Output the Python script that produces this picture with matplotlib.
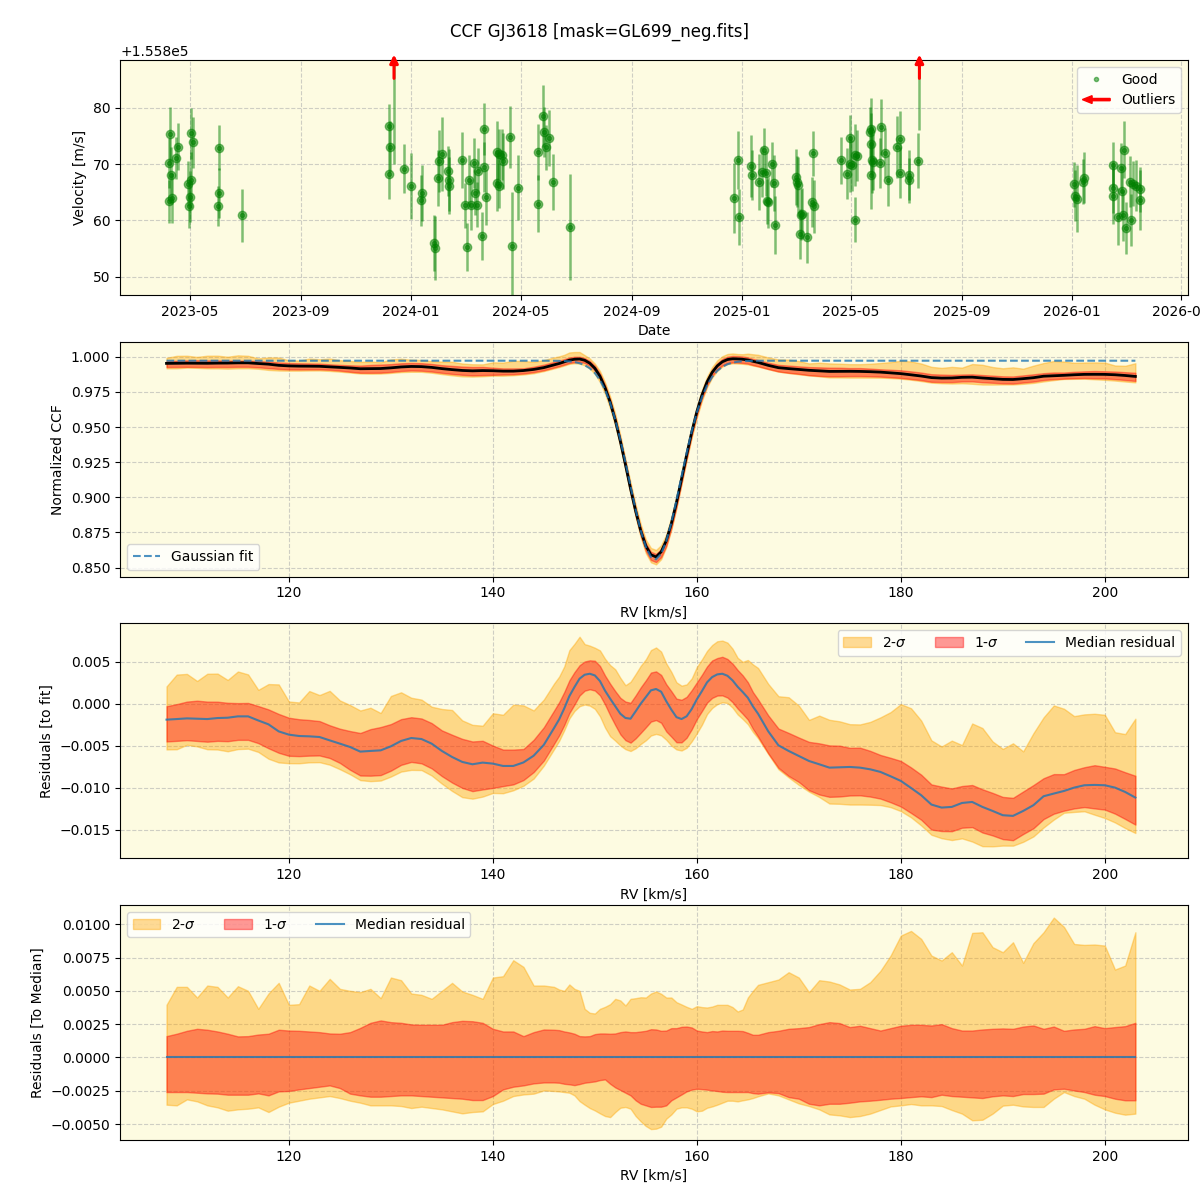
"""
CCF summary plot: RV time series, median CCF with Gaussian fit, residuals
"""
import numpy as np
import pandas as pd
import matplotlib
matplotlib.use('Agg')
import matplotlib.pyplot as plt
import matplotlib.dates as mdates
import matplotlib.patches as mpatches
from matplotlib.legend_handler import HandlerPatch
from matplotlib.lines import Line2D

# ---------------- RV time series ----------------
V_OFFSET = 1.558e5  # m/s

good_dates = [
    '2023-04-09', '2023-04-08', '2023-04-10', '2023-04-08', '2023-04-11', '2023-04-18', '2023-04-16',
    '2023-05-03', '2023-05-05', '2023-04-29', '2023-05-02', '2023-05-01', '2023-04-30',
    '2023-06-02', '2023-06-03', '2023-06-01', '2023-06-28',
    '2023-12-08', '2023-12-09', '2023-12-07', '2023-12-24', '2024-01-01', '2024-01-13', '2024-01-12',
    '2024-01-26', '2024-01-27', '2024-01-31', '2024-02-01', '2024-02-04', '2024-02-11', '2024-02-12',
    '2024-02-12', '2024-02-26', '2024-03-01', '2024-03-03', '2024-03-05', '2024-03-07', '2024-03-10',
    '2024-03-12', '2024-03-14', '2024-03-15', '2024-03-19', '2024-03-21', '2024-03-22', '2024-03-24',
    '2024-04-05', '2024-04-07', '2024-04-10', '2024-04-05', '2024-04-07', '2024-04-12', '2024-04-19',
    '2024-04-21', '2024-04-28', '2024-05-20', '2024-05-20', '2024-05-26', '2024-05-27', '2024-06-01',
    '2024-05-29', '2024-06-06', '2024-06-25',
    '2024-12-23', '2024-12-27', '2024-12-28', '2025-01-11', '2025-01-12', '2025-01-20', '2025-01-25',
    '2025-01-23', '2025-01-27', '2025-02-03', '2025-02-05', '2025-01-30', '2025-01-28', '2025-02-06',
    '2025-03-02', '2025-03-03', '2025-03-04', '2025-03-07', '2025-03-08', '2025-03-06', '2025-03-14',
    '2025-03-20', '2025-03-19', '2025-03-21', '2025-04-20', '2025-04-27', '2025-04-30', '2025-04-30',
    '2025-05-03', '2025-05-06', '2025-05-08', '2025-05-06', '2025-05-22', '2025-05-24', '2025-05-23',
    '2025-05-25', '2025-05-26', '2025-05-23', '2025-06-02', '2025-06-03', '2025-06-08', '2025-06-11',
    '2025-06-21', '2025-06-25', '2025-06-25', '2025-07-04', '2025-07-05', '2025-07-14',
    '2026-01-03', '2026-01-04', '2026-01-06', '2026-01-13', '2026-01-14', '2026-02-15', '2026-02-15',
    '2026-02-15', '2026-02-24', '2026-02-27', '2026-02-25', '2026-02-21', '2026-02-26', '2026-03-01',
    '2026-03-06', '2026-03-09', '2026-03-12', '2026-03-07', '2026-03-17', '2026-03-17',
]
good_vel = [
    75.3, 70.2, 68.0, 63.4, 64.0, 73.1, 71.1,
    75.5, 73.9, 66.5, 67.2, 64.2, 62.6,
    72.9, 64.9, 62.6, 60.9,
    76.7, 73.1, 68.3, 69.2, 66.1, 64.9, 63.6,
    56.0, 55.1, 67.5, 70.6, 71.8, 68.8, 67.2,
    66.2, 70.7, 62.7, 55.3, 67.1, 62.8, 70.2,
    64.9, 62.8, 68.8, 57.2, 76.3, 69.5, 64.2,
    72.2, 71.8, 71.7, 66.7, 66.2, 70.5, 74.9,
    55.5, 65.8, 72.2, 63.0, 78.6, 75.7, 74.7,
    73.0, 66.8, 58.8,
    64.0, 70.7, 60.6, 69.7, 68.1, 66.8, 72.5,
    68.6, 68.4, 70.0, 66.6, 63.2, 63.4, 59.2,
    67.7, 66.9, 66.3, 61.0, 61.2, 57.6, 57.0,
    71.9, 63.3, 62.5, 70.7, 68.3, 74.7, 70.0,
    69.8, 71.7, 71.5, 60.1, 75.7, 76.2, 73.6,
    70.8, 70.4, 68.0, 70.2, 76.6, 72.0, 67.1,
    73.1, 74.4, 68.5, 68.1, 67.1, 70.6,
    66.4, 64.4, 63.9, 66.9, 67.6, 69.9, 65.8,
    64.3, 69.3, 72.6, 65.2, 60.7, 60.9, 58.6,
    66.9, 66.5, 66.2, 60.1, 65.5, 63.6,
]
good_err = [
    4.8, 4.5, 5.0, 3.8, 4.5, 4.2, 3.8,
    4.5, 4.5, 4.0, 5.0, 4.5, 4.0,
    4.0, 4.5, 3.5, 4.7,
    4.0, 4.5, 4.5, 4.3, 5.8, 5.0, 4.5,
    5.0, 5.7, 5.0, 5.5, 6.5, 4.5, 5.5,
    5.0, 5.0, 4.0, 4.3, 4.5, 4.5, 4.5,
    4.0, 4.0, 4.0, 4.3, 4.6, 4.5, 5.0,
    5.5, 4.5, 4.5, 5.0, 4.0, 5.0, 5.5,
    9.5, 5.8, 5.0, 5.0, 5.5, 4.5, 5.0,
    4.0, 5.0, 9.4,
    6.2, 5.2, 5.0, 5.5, 4.5, 5.0, 4.0,
    4.5, 4.0, 4.0, 5.0, 4.5, 4.0, 5.1,
    5.0, 4.5, 5.0, 4.5, 4.5, 4.4, 4.5,
    4.0, 4.5, 4.7, 4.2, 4.5, 4.0, 5.0,
    4.5, 5.5, 4.5, 4.0, 4.5, 5.5, 5.5,
    6.0, 5.0, 6.0, 4.5, 5.0, 4.5, 4.5,
    5.5, 5.0, 4.5, 4.5, 4.0, 4.9,
    4.0, 4.5, 6.0, 4.0, 4.5, 4.0, 4.5,
    5.0, 4.5, 5.0, 4.5, 5.0, 4.5, 4.6,
    4.5, 4.0, 4.5, 4.6, 4.0, 5.3,
]

outlier_dates = ['2023-12-13', '2025-07-16']
outlier_vel = [96.0, 97.0]
outlier_err = [26.0, 21.0]

# ---------------- CCF / residuals (RV grid in km/s) ----------------
RV = np.concatenate([np.arange(108, 147), np.arange(146.5, 166.5, 0.5), np.arange(167, 204)])

# Gaussian fit parameters
FIT_CONT = 0.9972
FIT_DEPTH = 0.1415
FIT_CENTER = 155.9
FIT_SIGMA = 2.5

RES_UNIT = 1e-3
# median residual to fit (units of 1e-3)
res_median = [
    -1.9, -1.83, -1.75, -1.79, -1.83, -1.71, -1.67, -1.51, -1.51, -2.0, -2.46, -3.3, -3.69,
    -3.85, -3.89, -3.97, -4.37, -4.76, -5.16, -5.71, -5.63, -5.56, -5.08, -4.44, -4.09, -4.21,
    -4.76, -5.63, -6.35, -6.94, -7.22, -7.02, -7.14, -7.42, -7.42, -7.0, -6.2, -4.9, -2.9,
    -1.87, -0.56, 0.9, 1.98, 2.98, 3.45, 3.57, 3.37, 2.7, 1.55, 0.6, -0.3, -1.2, -1.7, -1.79,
    -0.91, 0.0, 0.79, 1.59, 1.75, 1.43, 0.3, -0.71, -1.6, -1.83, -1.5, -0.63, 0.52, 1.5, 2.54,
    3.17, 3.49, 3.57, 3.33, 2.78, 2.02, 1.39, 0.71, -0.32, -1.19,
    -3.29, -4.96, -5.63, -6.23, -6.83, -7.22, -7.62, -7.58, -7.54, -7.62, -7.82, -8.13, -8.65,
    -9.2, -10.04, -10.91, -12.02, -12.38, -12.3, -11.83, -11.71, -12.3, -12.78, -13.29, -13.37,
    -12.78, -12.1, -11.03, -10.71, -10.4, -10.0, -9.72, -9.68, -9.72, -10.0, -10.52, -11.19,
]
# band edges relative to the median (units of 1e-3)
sig2_hi = [
    3.95, 5.3, 5.3, 4.5, 5.4, 5.3, 4.5, 5.35, 5.0, 3.65, 4.8, 5.6, 3.95, 4.0, 5.4, 5.0, 5.9,
    5.15, 5.0, 4.9, 5.15, 4.45, 6.0, 5.8, 4.8, 4.7, 4.4, 5.0, 5.6, 4.95, 4.7, 4.4, 6.0, 6.1,
    7.3, 6.8, 5.4, 5.4, 5.3,
    5.1, 5.0, 5.48, 5.15, 5.0, 3.65, 3.35, 3.3, 3.65, 3.8, 4.0, 4.4, 4.28, 3.9, 4.4, 4.45, 4.52,
    4.5, 4.8, 4.95, 4.78, 4.5, 4.5, 4.15, 3.98, 3.8, 3.65, 3.85, 3.78, 3.75, 3.82, 3.95, 3.95,
    3.95, 3.78, 3.45, 3.6, 4.5, 5.0, 5.45,
    5.65, 5.85, 6.4, 6.0, 4.9, 5.8, 5.7, 5.48, 5.1, 5.15, 5.65, 6.5, 7.65, 9.15, 9.5, 8.9, 7.65,
    7.28, 7.9, 6.9, 9.35, 9.4, 8.28, 7.9, 8.65, 7.1, 8.58, 9.4, 10.5, 9.8, 8.52, 8.45, 8.48,
    8.4, 6.6, 6.9, 9.4,
]
sig2_lo = [
    -3.55, -3.6, -3.15, -3.3, -3.6, -3.75, -4.0, -3.9, -3.85, -3.75, -4.1, -3.7, -3.4, -3.25,
    -3.1, -3.0, -2.9, -3.05, -3.25, -3.4, -3.6, -3.6, -3.6, -3.65, -3.8, -3.7, -3.8, -3.9,
    -4.05, -4.2, -4.1, -4.05, -3.5, -3.25, -2.9, -2.78, -2.72, -2.48, -2.52,
    -2.55, -2.6, -2.65, -2.85, -3.28, -3.55, -3.8, -3.98, -4.2, -4.4, -4.48, -4.1, -3.78, -3.72,
    -3.85, -4.4, -4.8, -5.15, -5.38, -5.35, -5.2, -4.6, -4.28, -3.85, -3.75, -3.75, -3.85,
    -4.05, -4.0, -3.78, -3.68, -3.55, -3.4, -3.25, -3.25, -3.3, -3.22, -3.15, -3.05, -2.92,
    -2.7, -2.85, -3.15, -3.45, -3.65, -3.9, -4.28, -4.35, -4.48, -4.4, -4.22, -3.95, -3.68,
    -3.6, -3.5, -3.6, -3.6, -3.65, -3.95, -4.22, -4.72, -4.68, -4.22, -3.62, -3.55, -3.68,
    -3.72, -3.72, -3.1, -2.6, -2.9, -3.1, -3.55, -3.9, -4.15, -4.3, -4.22,
]
sig1_hi = [
    1.6, 1.78, 2.0, 2.15, 2.08, 1.95, 1.78, 1.58, 1.6, 1.72, 1.78, 2.08, 2.02, 2.0, 1.95, 1.9,
    1.8, 1.78, 1.9, 2.22, 2.6, 2.78, 2.65, 2.6, 2.48, 2.45, 2.45, 2.45, 2.65, 2.75, 2.72, 2.6,
    2.15, 1.95, 1.95, 1.6, 1.9, 2.1, 2.08,
    2.05, 1.95, 1.88, 1.78, 1.6, 1.58, 1.6, 1.75, 1.8, 1.8, 1.78, 1.8, 1.9, 1.95, 1.9, 1.9,
    1.95, 2.0, 2.12, 2.1, 2.0, 2.02, 2.2, 2.2, 2.3, 2.32, 2.25, 2.02, 1.95, 1.9, 1.98, 1.95,
    2.02, 2.0, 2.0, 2.0, 1.98, 1.85, 1.7, 1.7,
    1.9, 2.0, 2.15, 2.2, 2.28, 2.5, 2.65, 2.58, 2.28, 2.38, 2.2, 2.02, 2.2, 2.38, 2.45, 2.45,
    2.4, 2.5, 2.2, 2.02, 2.02, 2.1, 2.15, 2.18, 2.15, 2.32, 2.4, 2.15, 2.32, 2.0, 2.1, 2.15,
    2.35, 2.2, 2.28, 2.35, 2.6,
]
sig1_lo = [
    -2.6, -2.6, -2.6, -2.65, -2.7, -2.72, -2.8, -2.8, -2.8, -2.7, -2.85, -2.55, -2.52, -2.4,
    -2.3, -2.2, -2.1, -2.3, -2.72, -2.85, -2.95, -2.95, -2.9, -2.85, -2.85, -2.9, -2.95, -3.0,
    -3.05, -3.1, -3.2, -3.2, -2.9, -2.4, -2.2, -2.1, -1.95, -1.88, -1.88,
    -1.9, -1.98, -2.02, -2.08, -2.0, -1.9, -1.85, -1.8, -1.7, -1.65, -1.98, -2.25, -2.45, -2.65,
    -2.85, -3.22, -3.48, -3.6, -3.72, -3.7, -3.7, -3.6, -3.22, -3.0, -2.78, -2.55, -2.42, -2.35,
    -2.38, -2.42, -2.48, -2.52, -2.58, -2.6, -2.6, -2.6, -2.6, -2.6, -2.68, -2.72,
    -2.62, -2.68, -2.98, -3.1, -3.48, -3.6, -3.48, -3.48, -3.4, -3.3, -3.25, -3.18, -3.1,
    -3.05, -2.98, -2.92, -2.98, -2.8, -2.9, -2.95, -3.0, -3.05, -2.92, -2.85, -2.9, -2.75,
    -2.75, -2.72, -2.4, -2.35, -2.48, -2.6, -2.8, -2.9, -3.1, -3.22, -3.22,
]

BG = '#fdfbe1'


def make_legend_arrow(legend, orig_handle, xdescent, ydescent, width, height, fontsize):
    return mpatches.FancyArrow(width, 0.5 * height, -width, 0, length_includes_head=True,
                               width=1.6, head_width=0.8 * height, head_length=0.35 * width,
                               color='red')


def plot_timeseries(ax):
    t = pd.to_datetime(good_dates)
    v = np.array(good_vel) + V_OFFSET
    ax.errorbar(t, v, yerr=good_err, fmt='o', color='green', alpha=0.5, ms=6,
                elinewidth=1.8, capsize=0)
    ax.plot(t, v, '.', color='green', alpha=0.5, label='Good')

    to = pd.to_datetime(outlier_dates)
    vo = np.array(outlier_vel) + V_OFFSET
    ax.errorbar(to, vo, yerr=outlier_err, fmt='none', ecolor='green', alpha=0.5,
                elinewidth=1.8, capsize=0)
    for d in to:
        xd = mdates.date2num(d)
        ax.annotate('', xy=(xd, 1.035), xycoords=('data', 'axes fraction'),
                    xytext=(xd, 0.91), textcoords=('data', 'axes fraction'),
                    arrowprops=dict(arrowstyle='-|>', color='red', lw=2.2, mutation_scale=12),
                    annotation_clip=False)

    ax.set_xlim(pd.Timestamp('2023-02-13'), pd.Timestamp('2026-05-09'))
    ax.set_ylim(46.8 + V_OFFSET, 88.5 + V_OFFSET)
    ax.xaxis.set_major_locator(mdates.MonthLocator(bymonth=(1, 5, 9)))
    ax.xaxis.set_major_formatter(mdates.DateFormatter('%Y-%m'))
    ax.set_xlabel('Date')
    ax.set_ylabel('Velocity [m/s]')

    good_h = Line2D([], [], marker='.', color='green', alpha=0.5, linestyle='None')
    out_h = mpatches.FancyArrow(0, 0, 1, 0, color='red')
    ax.legend([good_h, out_h], ['Good', 'Outliers'], loc='upper right',
              handler_map={mpatches.FancyArrow: HandlerPatch(patch_func=make_legend_arrow)})


def main():
    med = np.array(res_median) * RES_UNIT
    s2h = med + np.array(sig2_hi) * RES_UNIT
    s2l = med + np.array(sig2_lo) * RES_UNIT
    s1h = med + np.array(sig1_hi) * RES_UNIT
    s1l = med + np.array(sig1_lo) * RES_UNIT

    gauss = FIT_CONT - FIT_DEPTH * np.exp(-0.5 * ((RV - FIT_CENTER) / FIT_SIGMA) ** 2)

    fig, axes = plt.subplots(4, 1, figsize=(12, 12), dpi=100)
    fig.subplots_adjust(left=0.1, right=0.99, top=0.95, bottom=0.05, hspace=0.2)
    fig.suptitle('CCF GJ3618 [mask=GL699_neg.fits]', fontsize=12, y=0.981)

    for ax in axes:
        ax.set_facecolor(BG)
        ax.grid(True, linestyle='--', alpha=0.6)
        ax.set_axisbelow(True)

    plot_timeseries(axes[0])

    # median CCF and Gaussian fit
    ax = axes[1]
    ax.fill_between(RV, gauss + s2l, gauss + s2h, color='orange', alpha=0.4)
    ax.fill_between(RV, gauss + s1l, gauss + s1h, color='red', alpha=0.4)
    ax.plot(RV, gauss + med, color='black', lw=2)
    ax.plot(RV, gauss, '--', color='tab:blue', alpha=0.8, label='Gaussian fit')
    ax.set_xlim(103.44, 208.16)
    ax.set_ylim(0.8436, 1.0107)
    ax.set_xlabel('RV [km/s]')
    ax.set_ylabel('Normalized CCF')
    ax.legend(loc='lower left')

    # residuals to fit
    ax = axes[2]
    ax.fill_between(RV, s2l, s2h, color='orange', alpha=0.4, label=r'2-$\sigma$')
    ax.fill_between(RV, s1l, s1h, color='red', alpha=0.4, label=r'1-$\sigma$')
    ax.plot(RV, med, color='tab:blue', alpha=0.8, label='Median residual')
    ax.set_xlim(103.44, 208.16)
    ax.set_ylim(-0.01842, 0.00956)
    ax.set_xlabel('RV [km/s]')
    ax.set_ylabel('Residuals [to fit]')
    ax.legend(loc='upper right', ncol=3)

    # residuals to median
    ax = axes[3]
    ax.fill_between(RV, s2l - med, s2h - med, color='orange', alpha=0.4, label=r'2-$\sigma$')
    ax.fill_between(RV, s1l - med, s1h - med, color='red', alpha=0.4, label=r'1-$\sigma$')
    ax.plot(RV, med - med, color='tab:blue', alpha=0.8, label='Median residual')
    ax.set_xlim(103.44, 208.16)
    ax.set_ylim(-0.0062, 0.01143)
    ax.set_xlabel('RV [km/s]')
    ax.set_ylabel('Residuals [To Median]')
    ax.legend(loc='upper left', ncol=3)

    plt.savefig('out.png', dpi=100)
    plt.close()


if __name__ == "__main__":
    main()
